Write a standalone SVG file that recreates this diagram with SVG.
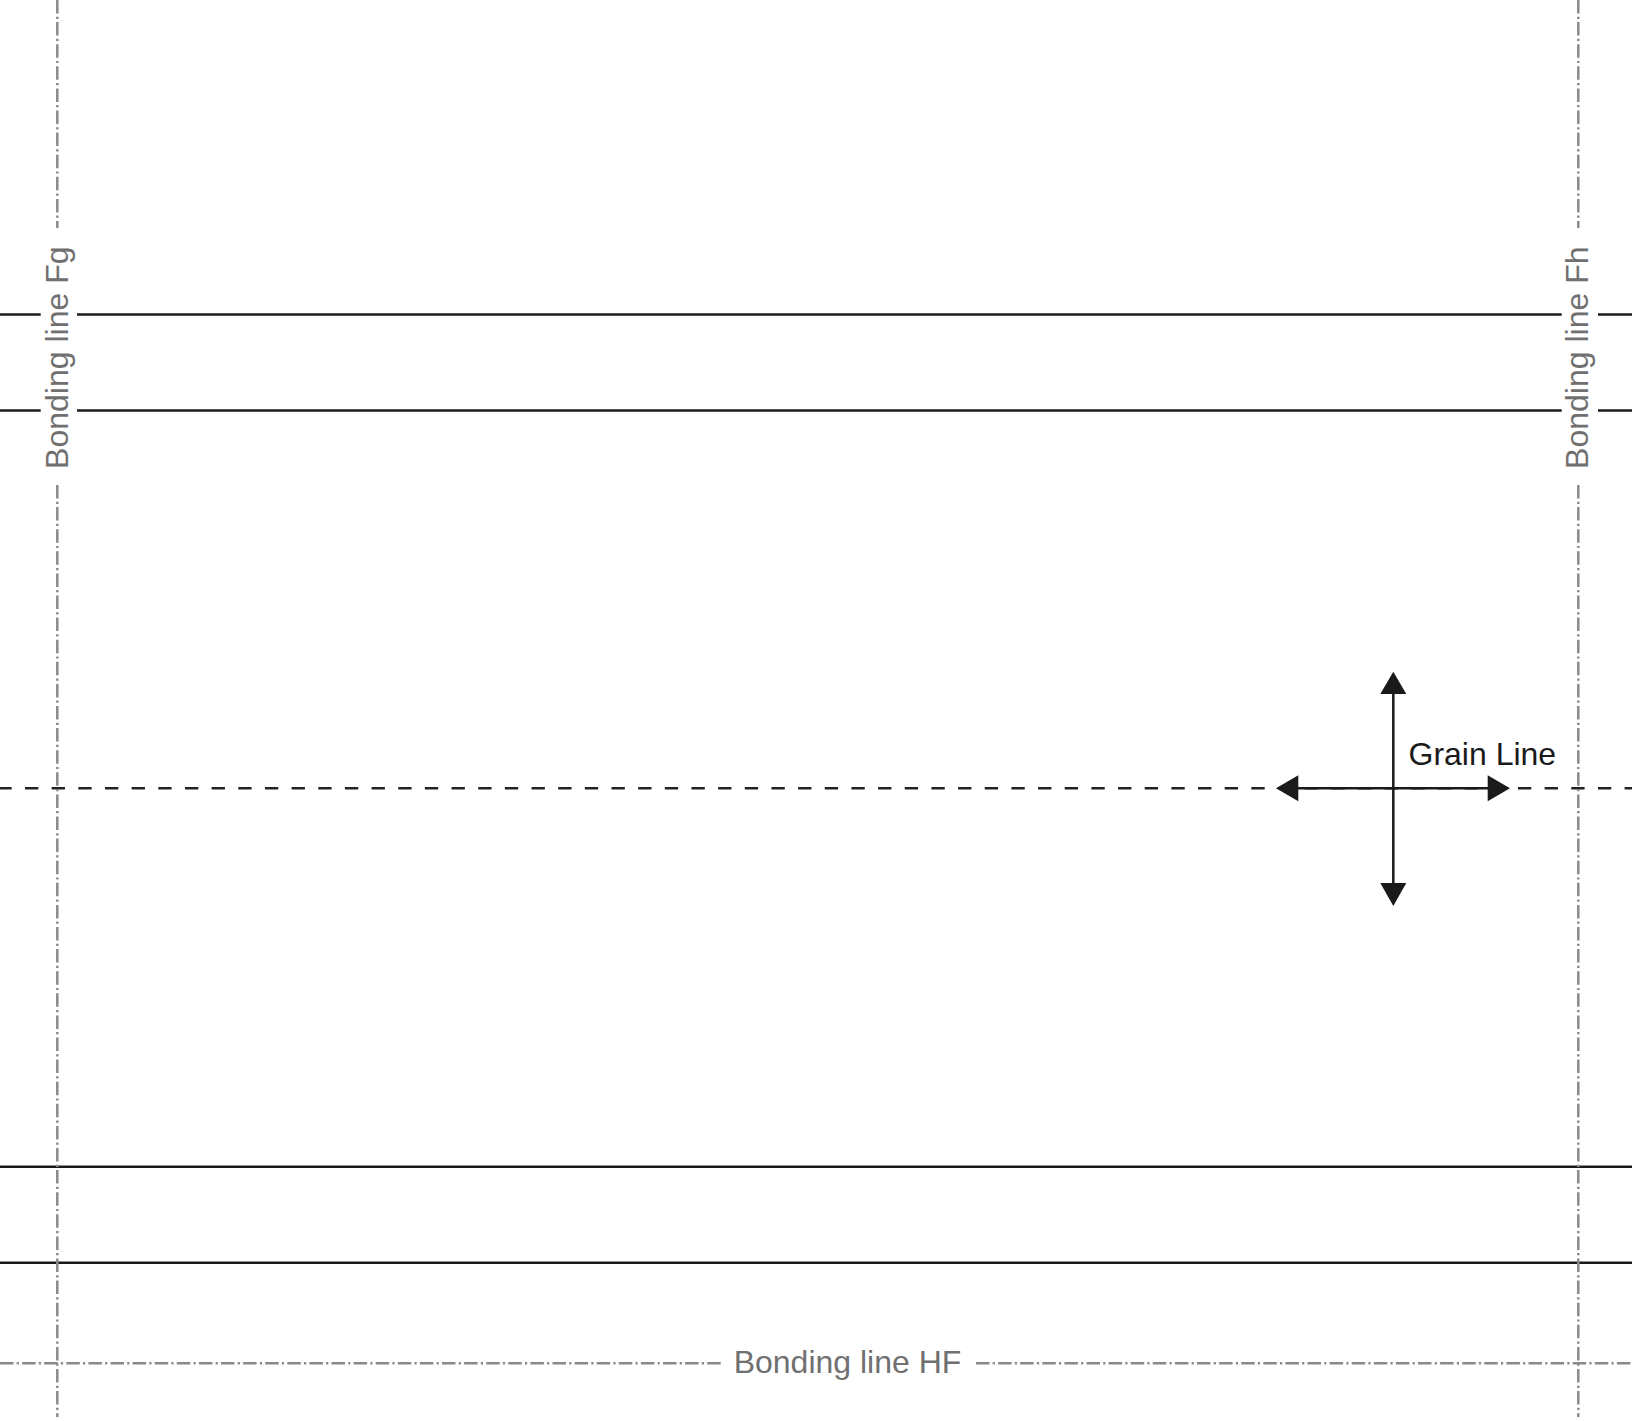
<svg xmlns="http://www.w3.org/2000/svg" width="1632" height="1421" viewBox="0 0 1632 1421">
<style>
.solid{stroke:#1a1a1a;stroke-width:2.4;fill:none}
.bond{stroke:#8a8a8a;stroke-width:2.5;fill:none;stroke-dasharray:13.5 3.2 2.2 3.2}
.fold{stroke:#222;stroke-width:2.5;fill:none;stroke-dasharray:13.33 13.33;stroke-dashoffset:1.67}
.lbl{font-family:"Liberation Sans",Arial,sans-serif;font-size:32px;fill:#707070}
.grain{font-family:"Liberation Sans",Arial,sans-serif;font-size:32px;fill:#1a1a1a}
.arr{stroke:#1a1a1a;stroke-width:2.5;fill:none}
.head{fill:#1a1a1a}
</style>
<rect width="1632" height="1421" fill="#fff"/>
<g id="panel-lines">
<line class="solid" x1="0" y1="314.5" x2="40.7" y2="314.5"/>
<line class="solid" x1="77" y1="314.5" x2="1561.7" y2="314.5"/>
<line class="solid" x1="1598" y1="314.5" x2="1632" y2="314.5"/>
<line class="solid" x1="0" y1="410.5" x2="40.7" y2="410.5"/>
<line class="solid" x1="77" y1="410.5" x2="1561.7" y2="410.5"/>
<line class="solid" x1="1598" y1="410.5" x2="1632" y2="410.5"/>
<line class="solid" x1="0" y1="1166.7" x2="1632" y2="1166.7"/>
<line class="solid" x1="0" y1="1262.7" x2="1632" y2="1262.7"/>
<line class="fold" x1="0" y1="788.3" x2="1632" y2="788.3"/>
</g>
<g id="bonding-Fg">
<line class="bond" x1="57.3" y1="0" x2="57.3" y2="228"/>
<line class="bond" x1="57.3" y1="485" x2="57.3" y2="1417"/>
<text class="lbl" text-anchor="middle" transform="translate(67.5,357.7) rotate(-90)">Bonding line Fg</text>
</g>
<g id="bonding-Fh">
<line class="bond" x1="1578.3" y1="0" x2="1578.3" y2="228"/>
<line class="bond" x1="1578.3" y1="485" x2="1578.3" y2="1417"/>
<text class="lbl" text-anchor="middle" transform="translate(1587.5,357.7) rotate(-90)">Bonding line Fh</text>
</g>
<g id="bonding-HF">
<line class="bond" x1="0" y1="1363.3" x2="722" y2="1363.3"/>
<line class="bond" x1="976" y1="1363.3" x2="1632" y2="1363.3"/>
<text class="lbl" text-anchor="middle" x="847.5" y="1373.3">Bonding line HF</text>
</g>
<g id="grain-line">
<line class="arr" x1="1393.3" y1="692" x2="1393.3" y2="885"/>
<line class="arr" x1="1296" y1="788.3" x2="1490" y2="788.3"/>
<polygon class="head" points="1393.3,671.7 1406.3,694 1380.3,694"/>
<polygon class="head" points="1393.3,906 1406.3,883 1380.3,883"/>
<polygon class="head" points="1276,788.3 1298.3,775.3 1298.3,801.3"/>
<polygon class="head" points="1510,788.3 1487.7,775.3 1487.7,801.3"/>
<text class="grain" x="1408.5" y="765">Grain Line</text>
</g>
</svg>
